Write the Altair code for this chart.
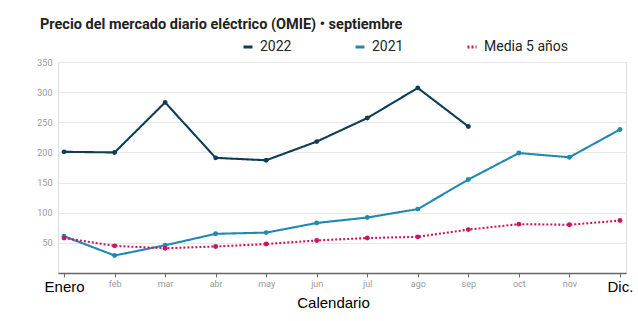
import altair as alt
import pandas as pd

months = ["Enero", "feb", "mar", "abr", "may", "jun", "jul", "ago", "sep", "oct", "nov", "Dic."]
v2022 = [201, 200, 283, 191, 187, 218, 257, 307, 243]
v2021 = [61, 29, 46, 65, 67, 83, 92, 106, 155, 199, 192, 238]
media = [58, 45, 41, 44, 48, 54, 58, 60, 72, 81, 80, 87]

series = ["2022", "2021", "Media 5 años"]
colors = ["#0f3d55", "#2089b0", "#cc1466"]

rows = []
for name, vals in zip(series, [v2022, v2021, media]):
    for i, v in enumerate(vals):
        rows.append({"mes": months[i], "valor": v, "serie": name, "orden": i})
df = pd.DataFrame(rows)

color_scale = alt.Scale(domain=series, range=colors)
dash_scale = alt.Scale(domain=series, range=[[1, 0], [1, 0], [2, 2]])

big = "datum.label == 'Enero' || datum.label == 'Dic.'"

legend_cfg = dict(
    title=None,
    orient="none",
    direction="horizontal",
    legendX=183,
    legendY=-22,
    symbolType="stroke",
    symbolSize=81,
    symbolStrokeWidth=3,
    labelFontSize=14,
    labelFont="Roboto",
    labelColor="#222222",
    columnPadding=57,
    labelOffset=5,
)

chart = alt.Chart(df).mark_line(
    strokeWidth=2.1,
    point=alt.OverlayMarkDef(size=24, filled=True, opacity=1),
).encode(
    x=alt.X(
        "mes:N",
        sort=months,
        scale=alt.Scale(type="point", padding=0.12),
        axis=alt.Axis(
            title="Calendario",
            labelAngle=0,
            grid=False,
            domainColor="#666666",
            domainWidth=1.5,
            tickColor="#666666",
            tickSize=4,
            labelPadding=2,
            labelBaseline="top",
            labelFontSize={"condition": {"test": big, "value": 15}, "value": 9},
            labelColor={"condition": {"test": big, "value": "#000000"}, "value": "#999999"},
            labelFont={"condition": {"test": big, "value": "Liberation Sans"}, "value": "Roboto"},
            titleFont="Liberation Sans",
            titleFontSize=15,
            titleFontWeight="normal",
            titleColor="#000000",
            titleBaseline="middle",
            titleAlign="center",
            titleX=275,
            titleY=29,
        ),
    ),
    y=alt.Y(
        "valor:Q",
        scale=alt.Scale(domain=[0, 350], nice=False),
        axis=alt.Axis(
            title=None,
            values=[50, 100, 150, 200, 250, 300, 350],
            domain=False,
            ticks=False,
            labelColor="#999999",
            labelFontSize=9,
            labelFont="Roboto",
            labelPadding=6,
            gridColor="#e8e8e8",
            gridWidth=1,
        ),
    ),
    color=alt.Color("serie:N", scale=color_scale, sort=series, legend=alt.Legend(**legend_cfg)),
    strokeDash=alt.StrokeDash("serie:N", scale=dash_scale, sort=series, legend=alt.Legend(**legend_cfg)),
    order="orden:Q",
).properties(
    width=568,
    height=211,
    title=alt.TitleParams(
        "Precio del mercado diario eléctrico (OMIE) • septiembre",
        anchor="start",
        frame="group",
        dx=-18,
        font="Roboto",
        fontSize=14.5,
        fontWeight="bold",
        color="#222222",
        offset=8,
    ),
    autosize=alt.AutoSizeParams(type="none"),
    padding={"left": 58, "top": 62, "right": 12, "bottom": 48},
).configure_view(stroke=None).configure(background="white")

chart.save("out.html", embed_options={"renderer": "svg", "actions": False})
